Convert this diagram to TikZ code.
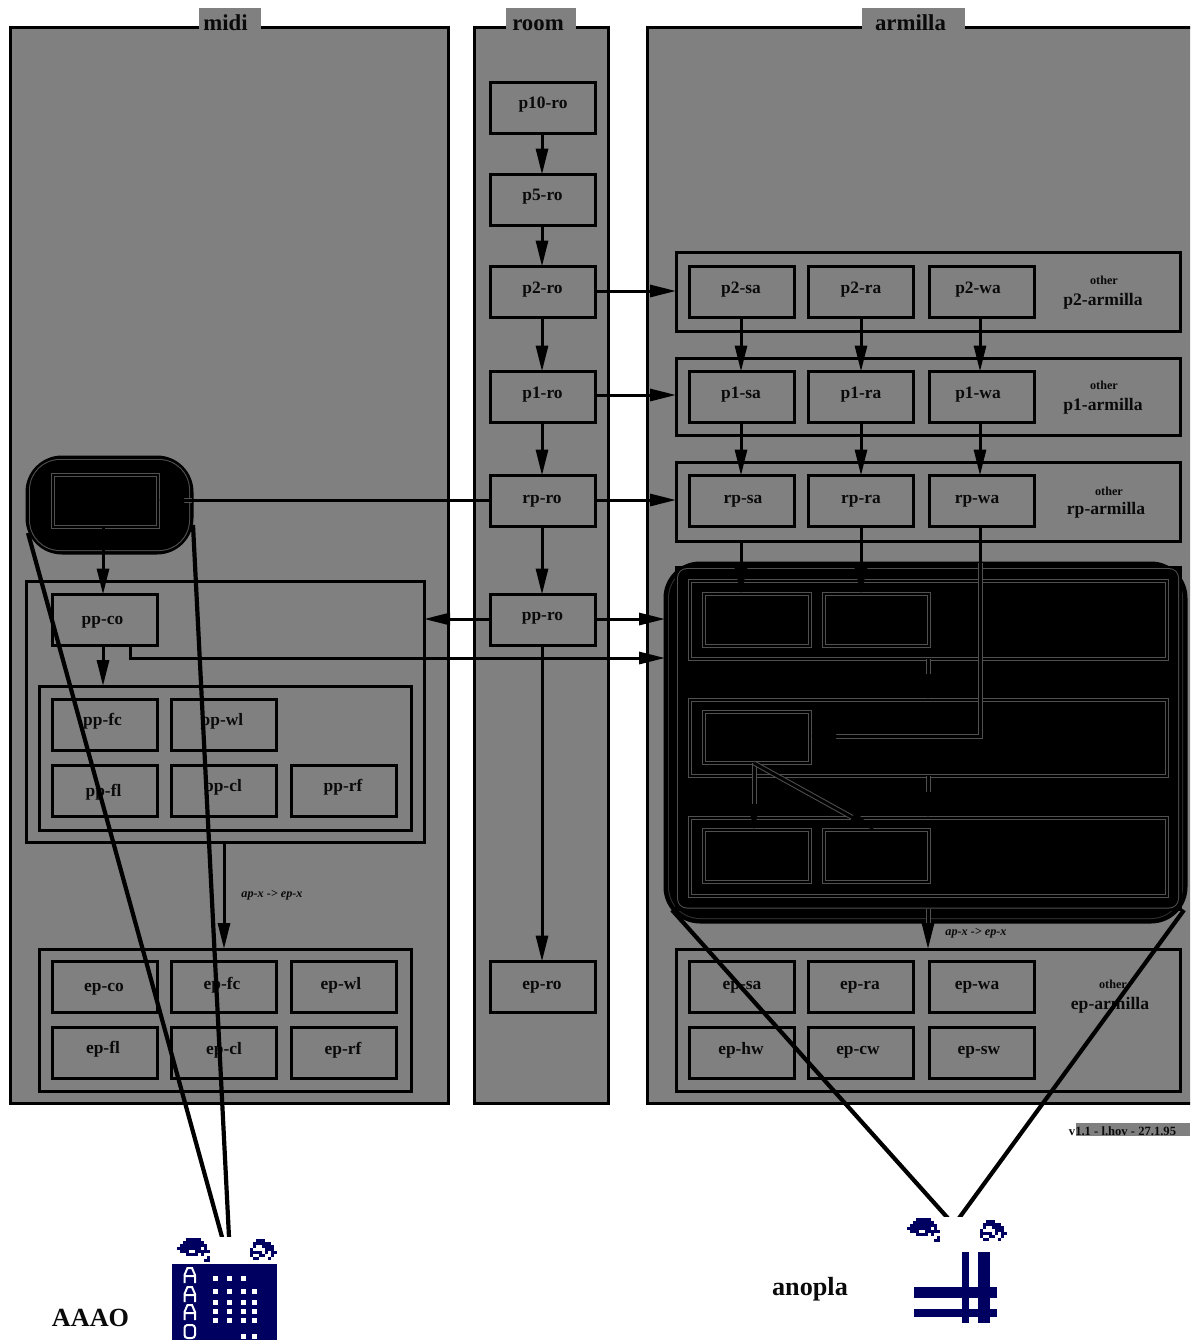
\documentclass[tikz,border=0pt]{standalone}
\usepackage{fontspec}
\setmainfont{Liberation Serif}
\usetikzlibrary{arrows.meta}
\definecolor{pgray}{HTML}{808080}
\definecolor{navy}{HTML}{000060}
\definecolor{ink}{HTML}{0A0A0A}
\definecolor{halocol}{HTML}{505050}
\definecolor{faint}{HTML}{303030}
\tikzset{
  panel/.style={draw=black,fill=pgray,line width=1.5pt},
  grp/.style={draw=black,line width=1.5pt},
  tab/.style={fill=pgray},
  anchoronly/.style={inner sep=0},
  boxn/.style={draw=black,line width=1.5pt,font=\fontsize{8.7}{10}\selectfont\bfseries,text=ink},
  blob/.style={draw=black,fill=black,line width=1.5pt,rounded corners=17.5pt},
  arr/.style={draw=black,line width=1.5pt,-{Triangle[length=13pt,width=6pt]}},
  halo/.style={draw=halocol,line width=2.5pt,shorten >=12pt},
  zoomline/.style={draw=black,line width=2.1pt},
  title/.style={anchor=base,font=\fontsize{11.4}{13}\selectfont\bfseries,text=ink,inner sep=0},
  big/.style={anchor=base,font=\fontsize{8.8}{10}\selectfont\bfseries,text=ink,inner sep=0},
  small/.style={anchor=base,font=\fontsize{6.1}{7}\selectfont\bfseries,text=ink,inner sep=0},
  note/.style={anchor=base,font=\fontsize{6.1}{7}\selectfont\bfseries\itshape,text=ink,inner sep=0},
  stamp/.style={anchor=base,font=\fontsize{6.3}{7}\selectfont\bfseries,text=ink,inner sep=0},
  icontext/.style={anchor=base,font=\fontsize{13.1}{15}\selectfont\bfseries,text=ink,inner sep=0},
}
% rectangle node from corners: [style]{name}{x0}{y0}{x1}{y1}
\newcommand\rc[6][grp]{%
  \pgfmathsetmacro\rcw{(#5-#3)*.5}\pgfmathsetmacro\rch{(#6-#4)*.5}%
  \node[#1,minimum width=\rcw pt,minimum height=\rch pt,inner sep=0,outer sep=0] (#2) at ({(#3+#5)/2},{(#4+#6)/2}) {};}
% thin outline made of two fills: {colour}{radius pt}{x0}{y0}{x1}{y1}
\newcommand\ring[6]{%
  \fill[#1,rounded corners=#2pt] (#3,#4) rectangle (#5,#6);
  \pgfmathsetmacro\rgr{max(#2-.5,0)}%
  \fill[black,rounded corners=\rgr pt] ({#3+1},{#4+1}) rectangle ({#5-1},{#6-1});}
% black-out box: black line with a thin light edge on each side
\newcommand\dr[5]{%
  \ring{halocol}{0}{#2-2}{#3-2}{#4+2}{#5+2}
  \ring{halocol}{0}{#2+1}{#3+1}{#4-1}{#5-1}
  \rc[anchoronly]{#1}{#2}{#3}{#4}{#5}}
% labelled box: [baseline drop px]{name}{left}{top}{text centre x}{text}
\newcommand\bx[6][0]{%
  \pgfmathsetmacro\bxdx{#5-(#3+52.5)}\pgfmathsetmacro\bxdy{#1*.5}%
  \node[boxn,minimum width=52.5pt,minimum height=25.5pt,inner sep=0,outer sep=0] (#2) at ({#3+52.5},{#4+25.5})
    {\raisebox{-\bxdy pt}[0pt][0pt]{\makebox[0pt][c]{\hspace{\bxdx pt}#6}}};}
\newcommand\spr[3]{\foreach \cc/\rr/\nn in #3
  {\fill[navy] ({#1+\cc*3},{#2+\rr*3}) rectangle ({#1+(\cc+\nn)*3},{#2+(\rr+1)*3});}}
\newcommand\sprL{3/0/5,2/1/7,8/1/1,1/2/7,8/2/2,0/3/8,9/3/1,1/4/3,6/4/5,3/5/4,8/5/1,10/6/1,9/7/2}
\newcommand\sprR{3/0/3,2/1/2,4/1/4,2/2/1,5/2/4,1/3/1,6/3/3,1/4/4,6/4/1,8/4/2,1/5/1,4/5/2,8/5/1,2/6/2,7/6/1}
\newcommand\harrow[2]{\draw[halo] #1 -- #2; \draw[arr] #1 -- #2;}
\begin{document}
\begin{tikzpicture}[x=0.5pt,y=-0.5pt]
\useasboundingbox (0,0) rectangle (1190,1340);
\clip (0,0) rectangle (1190,1340);
% panels
\rc[panel]{midi}{10}{27}{448}{1103}
\rc[panel]{room}{474}{27}{608}{1103}
\rc[panel]{armilla}{647}{27}{1200}{1103}
\rc[tab]{tabm}{199}{8}{261}{36}
\rc[tab]{tabr}{506}{8}{576}{36}
\rc[tab]{taba}{862}{8}{965}{36}
\node[title] (tm) at (225.5,30) {midi};
\node[title] (tr) at (538,30) {room};
\node[title] (ta) at (910.5,30) {armilla};
% room column
\bx{p10ro}{490.5}{82.5}{543}{p10-ro}
\bx{p5ro}{490.5}{174.5}{542.5}{p5-ro}
\bx[1]{p2ro}{490.5}{266.5}{542.5}{p2-ro}
\bx[1]{p1ro}{490.5}{371.5}{542.5}{p1-ro}
\bx[2]{rpro}{490.5}{475.5}{542}{rp-ro}
\bx{ppro}{490.5}{594.5}{542.5}{pp-ro}
\bx[2]{epro}{490.5}{961.5}{542}{ep-ro}
% armilla groups
\rc{gp2}{676}{252.5}{1180}{331}
\rc{gp1}{676}{358}{1180}{435}
\rc{grp}{676}{462}{1180}{541}
\bx[1]{p2sa}{689.5}{266.5}{741}{p2-sa}
\bx[1]{p2ra}{808.5}{266.5}{861}{p2-ra}
\bx[1]{p2wa}{929}{266.5}{978}{p2-wa}
\bx[1]{p1sa}{689.5}{371.5}{741}{p1-sa}
\bx[1]{p1ra}{808.5}{371.5}{861}{p1-ra}
\bx[1]{p1wa}{929}{371.5}{978}{p1-wa}
\bx[2]{rpsa}{689.5}{475.5}{743}{rp-sa}
\bx[2]{rpra}{808.5}{475.5}{861}{rp-ra}
\bx[2]{rpwa}{929}{475.5}{977}{rp-wa}
\node[small] (o2) at (1104,284) {other};
\node[big] (l2) at (1103,305) {p2-armilla};
\node[small] (o1) at (1104,389) {other};
\node[big] (l1) at (1103,410) {p1-armilla};
\node[small] (or) at (1109,495) {other};
\node[big] (lr) at (1106,514) {rp-armilla};
% armilla ep group
\rc{gep}{676}{949}{1180}{1091}
\bx[2]{epsa}{689.5}{961.5}{742}{ep-sa}
\bx[2]{epra}{808.5}{961.5}{860}{ep-ra}
\bx[2]{epwa}{929}{961.5}{977}{ep-wa}
\bx[1]{ephw}{689.5}{1027.5}{741}{ep-hw}
\bx[1]{epcw}{808.5}{1027.5}{858}{ep-cw}
\bx[1]{epsw}{929}{1027.5}{979}{ep-sw}
\node[small] (oe) at (1113,988) {other};
\node[big] (le) at (1110,1009) {ep-armilla};
% armilla blacked-out block
\rc[draw=black,line width=1.5pt]{blobRr}{676}{567}{1180.5}{909}
\rc[blob]{blobR}{665}{563}{1186}{922}
\ring{faint}{16}{668}{566}{1183}{919}
\rc[draw=black,fill=black,line width=1.5pt]{blobRs}{676}{567}{1180.5}{909}
\ring{halocol}{5}{677}{568}{1179}{908.5}
\dr{rowa}{689.5}{581}{1167}{659}
\dr{rowb}{689.5}{700}{1167}{776}
\dr{rowc}{689.5}{818}{1167}{896}
\dr{aa}{703.5}{594}{810}{646}
\dr{ab}{823.5}{594}{929}{646}
\dr{ba}{703.5}{712}{810}{763}
\dr{ca}{703.5}{830}{810}{882}
\dr{cb}{823.5}{830}{929}{882}
% midi blob
\rc[blob]{blobL}{27}{457}{192}{553}
\ring{halocol}{15.5}{29}{459}{190}{551}
\dr{bl}{53}{475}{158}{527}
% midi groups
\rc{gpp}{26}{581}{424}{842}
\rc{gpi}{39.5}{686}{411}{830}
\bx[4]{ppco}{52.5}{594.5}{102.5}{pp-co}
\bx{ppfc}{52.5}{699.5}{102.5}{pp-fc}
\bx{ppwl}{171.5}{699.5}{222}{pp-wl}
\bx[5]{ppfl}{52.5}{765.5}{103.5}{pp-fl}
\bx{ppcl}{171.5}{765.5}{223}{pp-cl}
\bx{pprf}{291}{765.5}{343}{pp-rf}
\rc{gepm}{39.5}{949}{411}{1091}
\bx[4]{epco}{52.5}{961.5}{104}{ep-co}
\bx[2]{epfc}{171.5}{961.5}{222}{ep-fc}
\bx[2]{epwl}{291}{961.5}{341}{ep-wl}
\bx{epfl}{52.5}{1027.5}{103}{ep-fl}
\bx[1]{epcl}{171.5}{1027.5}{224}{ep-cl}
\bx[1]{eprf}{291}{1027.5}{343}{ep-rf}
\node[note] (nl) at (272,897) {ap-x -> ep-x};
\node[note] (nr) at (976,935) {ap-x -> ep-x};
% room arrows
\draw[arr] (p10ro.south -| 542,0) -- (p5ro.north -| 542,0);
\draw[arr] (p5ro.south -| 542,0) -- (p2ro.north -| 542,0);
\draw[arr] (p2ro.south -| 542,0) -- (p1ro.north -| 542,0);
\draw[arr] (p1ro.south -| 542,0) -- (rpro.north -| 542,0);
\draw[arr] (rpro.south -| 542,0) -- (ppro.north -| 542,0);
\draw[arr] (ppro.south -| 542,0) -- (epro.north -| 542,0);
% room to armilla
\draw[arr] (p2ro.east |- 0,291) -- (gp2.west |- 0,291);
\draw[arr] (p1ro.east |- 0,395) -- (gp1.west |- 0,395);
\draw[arr] (rpro.east |- 0,500) -- (grp.west |- 0,500);
\draw[arr] (ppro.east |- 0,619) -- (blobR.west |- 0,619);
\draw[arr] (ppro.west |- 0,619) -- (gpp.east |- 0,619);
% armilla verticals
\draw[arr] (p2sa.south -| 741,0) -- (p1sa.north -| 741,0);
\draw[arr] (p2ra.south -| 861,0) -- (p1ra.north -| 861,0);
\draw[arr] (p2wa.south -| 980,0) -- (p1wa.north -| 980,0);
\draw[arr] (p1sa.south -| 741,0) -- (rpsa.north -| 741,0);
\draw[arr] (p1ra.south -| 861,0) -- (rpra.north -| 861,0);
\draw[arr] (p1wa.south -| 980,0) -- (rpwa.north -| 980,0);
\draw[arr] (grp.south -| 741,0) -- (aa.north -| 741,0);
\draw[arr] (rpra.south -| 861,0) -- (ab.north -| 861,0);
\draw[draw=halocol,line width=2.5pt] (blobR.north -| 980,0) |- (834,736);
\draw[arr] (rpwa.south -| 980,0) |- (ba.east |- 0,736);
\harrow{(rowa.south -| 928,0)}{(rowb.north -| 928,0)}
\harrow{(rowb.south -| 928,0)}{(rowc.north -| 928,0)}
\harrow{(blobRs.south -| 928,0)}{(gep.north -| 928,0)}
\harrow{(ba.south -| 754,0)}{(ca.north -| 754,0)}
\harrow{(ba.south -| 754,0)}{(cb.north -| 875,0)}
% midi arrows
\draw[draw=halocol,line width=2.5pt] (blobL.east |- 0,500) -- (181,500);
\draw[arr] (rpro.west |- 0,500) -- (bl.east |- 0,500);
\draw[arr] (bl.south -| 103,0) -- (ppco.north -| 103,0);
\draw[arr] (ppco.south -| 103,0) -- (gpi.north -| 103,0);
\draw[arr] (ppco.south -| 130,0) |- (blobR.west |- 0,658);
\draw[arr] (gpp.south -| 224,0) -- (gepm.north -| 224,0);
% zoom lines
\coordinate (zl1) at (28,533);
\coordinate (zl2) at (193,525);
\coordinate (il1) at (224.2,1245);
\coordinate (il2) at (229.4,1245);
\coordinate (zr1) at (672,910);
\coordinate (zr2) at (1184,910);
\coordinate (ir1) at (954,1225);
\coordinate (ir2) at (954,1225);
\draw[zoomline] (zl1) -- (il1);
\draw[zoomline] (zl2) -- (il2);
\draw[zoomline] (zr1) -- (ir1);
\draw[zoomline] (zr2) -- (ir2);
\fill[white] (205,1237) rectangle (245,1262);
\fill[white] (930,1217) rectangle (975,1245);
% stamp
\fill[pgray] (1076,1122.5) rectangle (1190,1136);
\node[stamp] (ver) at (1122.5,1135) {v1.1 - l.hov - 27.1.95};
% icon labels
\node[icontext] (aaao) at (90.5,1326) {AAAO};
\node[icontext] (anopla) at (810,1295) {anopla};
% icon AAAO
\spr{177}{1238}{\sprL}
\spr{247}{1239}{\sprR}
\fill[navy] (172,1264) rectangle (277,1345);
\foreach \y in {1267,1286,1304}{
  \draw[white,line width=1pt] (184.5,\y+16) -- (184.5,\y+8) -- (187.5,\y+1) -- (192,\y+1) -- (195,\y+8) -- (195,\y+16) (184.5,\y+9) -- (195,\y+9);
}
\draw[white,line width=1pt,rounded corners=1.5pt] (184.5,1325) rectangle (195,1338);
\foreach \x in {213,227,241}{\fill[white] (\x,1276) rectangle +(4.5,4.5);}
\foreach \y in {1289,1300,1309,1318}{\foreach \x in {213,227,241,252}{\fill[white] (\x,\y) rectangle +(4.5,4.5);}}
\foreach \x in {241,252}{\fill[white] (\x,1334) rectangle +(4.5,4.5);}
% icon anopla
\spr{907}{1218}{\sprL}
\spr{977}{1220}{\sprR}
\fill[navy] (962,1252) rectangle (969,1323);
\fill[navy] (978,1252) rectangle (990,1323);
\fill[navy] (914,1287) rectangle (997,1298);
\fill[navy] (914,1309) rectangle (997,1317);
\end{tikzpicture}
\end{document}
